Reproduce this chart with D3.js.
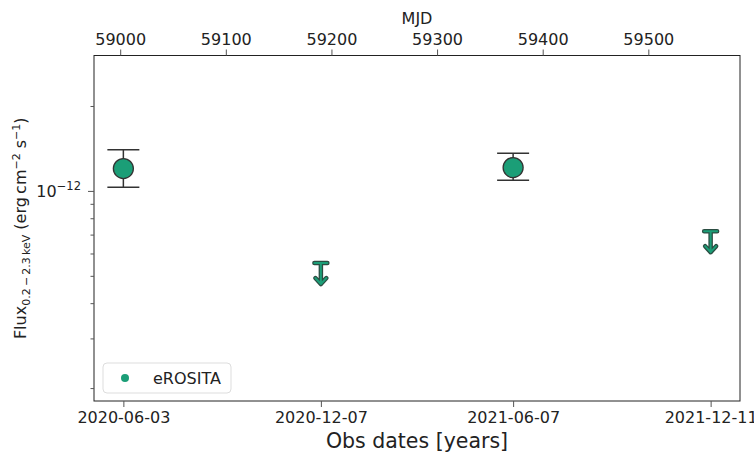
<!DOCTYPE html>
<html lang="en">
<head>
    <meta charset="UTF-8">
    <title>eROSITA light curve</title>
    <script src="https://d3js.org/d3.v7.min.js"></script>
    <style>
        body { margin: 0; background: #fff; }
        text { font-family: "DejaVu Sans", sans-serif; fill: #222; }
    </style>
</head>
<body>
    <div id="my_dataviz"></div>

    <script>
        // detections (eROSITA scans)
        var detDates = ["2020-06-03", "2021-06-07"];
        var detFlux = [1.20e-12, 1.21e-12];
        var detLow = [1.03e-12, 1.09e-12];
        var detHigh = [1.40e-12, 1.36e-12];

        // upper limits
        var ulDates = ["2020-12-07", "2021-12-11"];
        var ulFlux = [5.55e-13, 7.2e-13];

        // tick labels
        var obsTicks = ["2020-06-03", "2020-12-07", "2021-06-07", "2021-12-11"];
        var mjdTicks = [59000, 59100, 59200, 59300, 59400, 59500];
        var yMajor = [1e-12];
        var yMinor = [2e-13, 3e-13, 4e-13, 5e-13, 6e-13, 7e-13, 8e-13, 9e-13, 2e-12];

        var W = 754, H = 452;
        var margin = {top: 55.5, right: 14, bottom: 51, left: 94};
        var width = W - margin.left - margin.right;
        var height = H - margin.top - margin.bottom;
        var green = "#1b9e77";

        function toMJD(s) {
            var p = s.split("-");
            return (Date.UTC(+p[0], +p[1] - 1, +p[2]) - Date.UTC(1858, 10, 17)) / 864e5;
        }

        var allMjd = obsTicks.map(toMJD);
        var lo = d3.min(allMjd), hi = d3.max(allMjd), pad = (hi - lo) * 0.05;

        const svg = d3.select("#my_dataviz")
            .append("svg")
            .attr("width", W)
            .attr("height", H)
            .append("g")
            .attr("transform", `translate(${margin.left},${margin.top})`);

        const x = d3.scaleLinear()
            .domain([lo - pad, hi + pad])
            .range([0, width]);

        const y = d3.scaleLog()
            .domain([1.80e-13, 3.02e-12])
            .range([height, 0]);

        // frame
        svg.append("rect")
            .attr("width", width).attr("height", height)
            .attr("fill", "none").attr("stroke", "#222").attr("stroke-width", 1);

        function styleAxis(g) {
            g.select(".domain").remove();
            g.selectAll(".tick line").attr("stroke", "#555");
            g.selectAll(".tick text").style("font-size", "16px").attr("fill", "#222");
        }

        // bottom axis: obs dates
        svg.append("g")
            .attr("transform", `translate(0,${height})`)
            .call(d3.axisBottom(x)
                .tickValues(obsTicks.map(toMJD))
                .tickFormat(function(d, i) { return obsTicks[i]; })
                .tickSize(6).tickPadding(5))
            .call(styleAxis);

        // top axis: MJD
        svg.append("g")
            .call(d3.axisTop(x)
                .tickValues(mjdTicks)
                .tickFormat(d3.format("d"))
                .tickSize(6).tickPadding(5))
            .call(styleAxis);

        // left axis major
        svg.append("g")
            .call(d3.axisLeft(y).tickValues(yMajor).tickFormat("").tickSize(6))
            .call(styleAxis);
        // left axis minor
        svg.append("g")
            .call(d3.axisLeft(y).tickValues(yMinor).tickFormat("").tickSize(3.5))
            .call(styleAxis);

        // 10^-12 label
        yMajor.forEach(function(v) {
            var t = svg.append("text")
                .attr("x", -13).attr("y", y(v) + 6)
                .attr("text-anchor", "end")
                .style("font-size", "16px");
            var e = Math.round(Math.log10(v));
            t.append("tspan").text("10");
            t.append("tspan").attr("dy", -7).style("font-size", "11.5px").text("\u2212" + Math.abs(e));
        });

        // axis titles
        svg.append("text")
            .attr("x", width / 2).attr("y", -32)
            .attr("text-anchor", "middle")
            .style("font-size", "16px")
            .text("MJD");

        svg.append("text")
            .attr("x", width / 2).attr("y", height + 47)
            .attr("text-anchor", "middle")
            .style("font-size", "20.5px")
            .text("Obs dates [years]");

        var yl = svg.append("text")
            .attr("transform", `translate(${-68},${height / 2}) rotate(-90)`)
            .attr("text-anchor", "middle")
            .style("font-size", "16px");
        yl.append("tspan").text("Flux");
        yl.append("tspan").attr("dy", 4).style("font-size", "11px").text("0.2\u2009\u2212\u20092.3\u2009keV");
        yl.append("tspan").attr("dy", -4).text(" (erg\u2009cm");
        yl.append("tspan").attr("dy", -6).style("font-size", "11px").text("\u22122");
        yl.append("tspan").attr("dy", 6).text(" s");
        yl.append("tspan").attr("dy", -6).style("font-size", "11px").text("\u22121");
        yl.append("tspan").attr("dy", 6).text(")");

        // error bars
        var det = detDates.map(function(d, i) {
            return {m: toMJD(d), f: detFlux[i], l: detLow[i], h: detHigh[i]};
        });
        var cap = 16;
        var eb = svg.append("g").attr("stroke", "#333").attr("stroke-width", 1.5);
        det.forEach(function(d) {
            eb.append("line").attr("x1", x(d.m)).attr("x2", x(d.m)).attr("y1", y(d.l)).attr("y2", y(d.h));
            eb.append("line").attr("x1", x(d.m) - cap).attr("x2", x(d.m) + cap).attr("y1", y(d.l)).attr("y2", y(d.l));
            eb.append("line").attr("x1", x(d.m) - cap).attr("x2", x(d.m) + cap).attr("y1", y(d.h)).attr("y2", y(d.h));
        });

        svg.selectAll(".det")
            .data(det)
            .enter()
            .append("circle")
            .attr("cx", function(d) { return x(d.m); })
            .attr("cy", function(d) { return y(d.f); })
            .attr("r", 10)
            .attr("fill", green)
            .attr("stroke", "#333")
            .attr("stroke-width", 1.3);

        // upper limit arrows
        var ul = ulDates.map(function(d, i) { return {m: toMJD(d), f: ulFlux[i]}; });
        function arrowPath(d) {
            var cx = x(d.m), cy = y(d.f);
            return `M${cx - 6.5},${cy}H${cx + 6.5}M${cx},${cy}V${cy + 21}` +
                   `M${cx - 5.5},${cy + 15}L${cx},${cy + 21}L${cx + 5.5},${cy + 15}`;
        }
        svg.selectAll(".ulo")
            .data(ul).enter().append("path")
            .attr("d", arrowPath)
            .attr("fill", "none").attr("stroke", "#2b4d42")
            .attr("stroke-width", 4.5).attr("stroke-linecap", "round").attr("stroke-linejoin", "round");
        svg.selectAll(".uli")
            .data(ul).enter().append("path")
            .attr("d", arrowPath)
            .attr("fill", "none").attr("stroke", green)
            .attr("stroke-width", 2).attr("stroke-linecap", "round").attr("stroke-linejoin", "round");

        // legend
        var lg = svg.append("g").attr("transform", `translate(${103 - margin.left},${363 - margin.top})`);
        lg.append("rect")
            .attr("width", 128).attr("height", 30).attr("rx", 4)
            .attr("fill", "#fff").attr("stroke", "#ddd");
        lg.append("circle").attr("cx", 22).attr("cy", 15).attr("r", 4).attr("fill", green);
        lg.append("text").attr("x", 50).attr("y", 21).style("font-size", "16px").text("eROSITA");
    </script>
</body>
</html>
